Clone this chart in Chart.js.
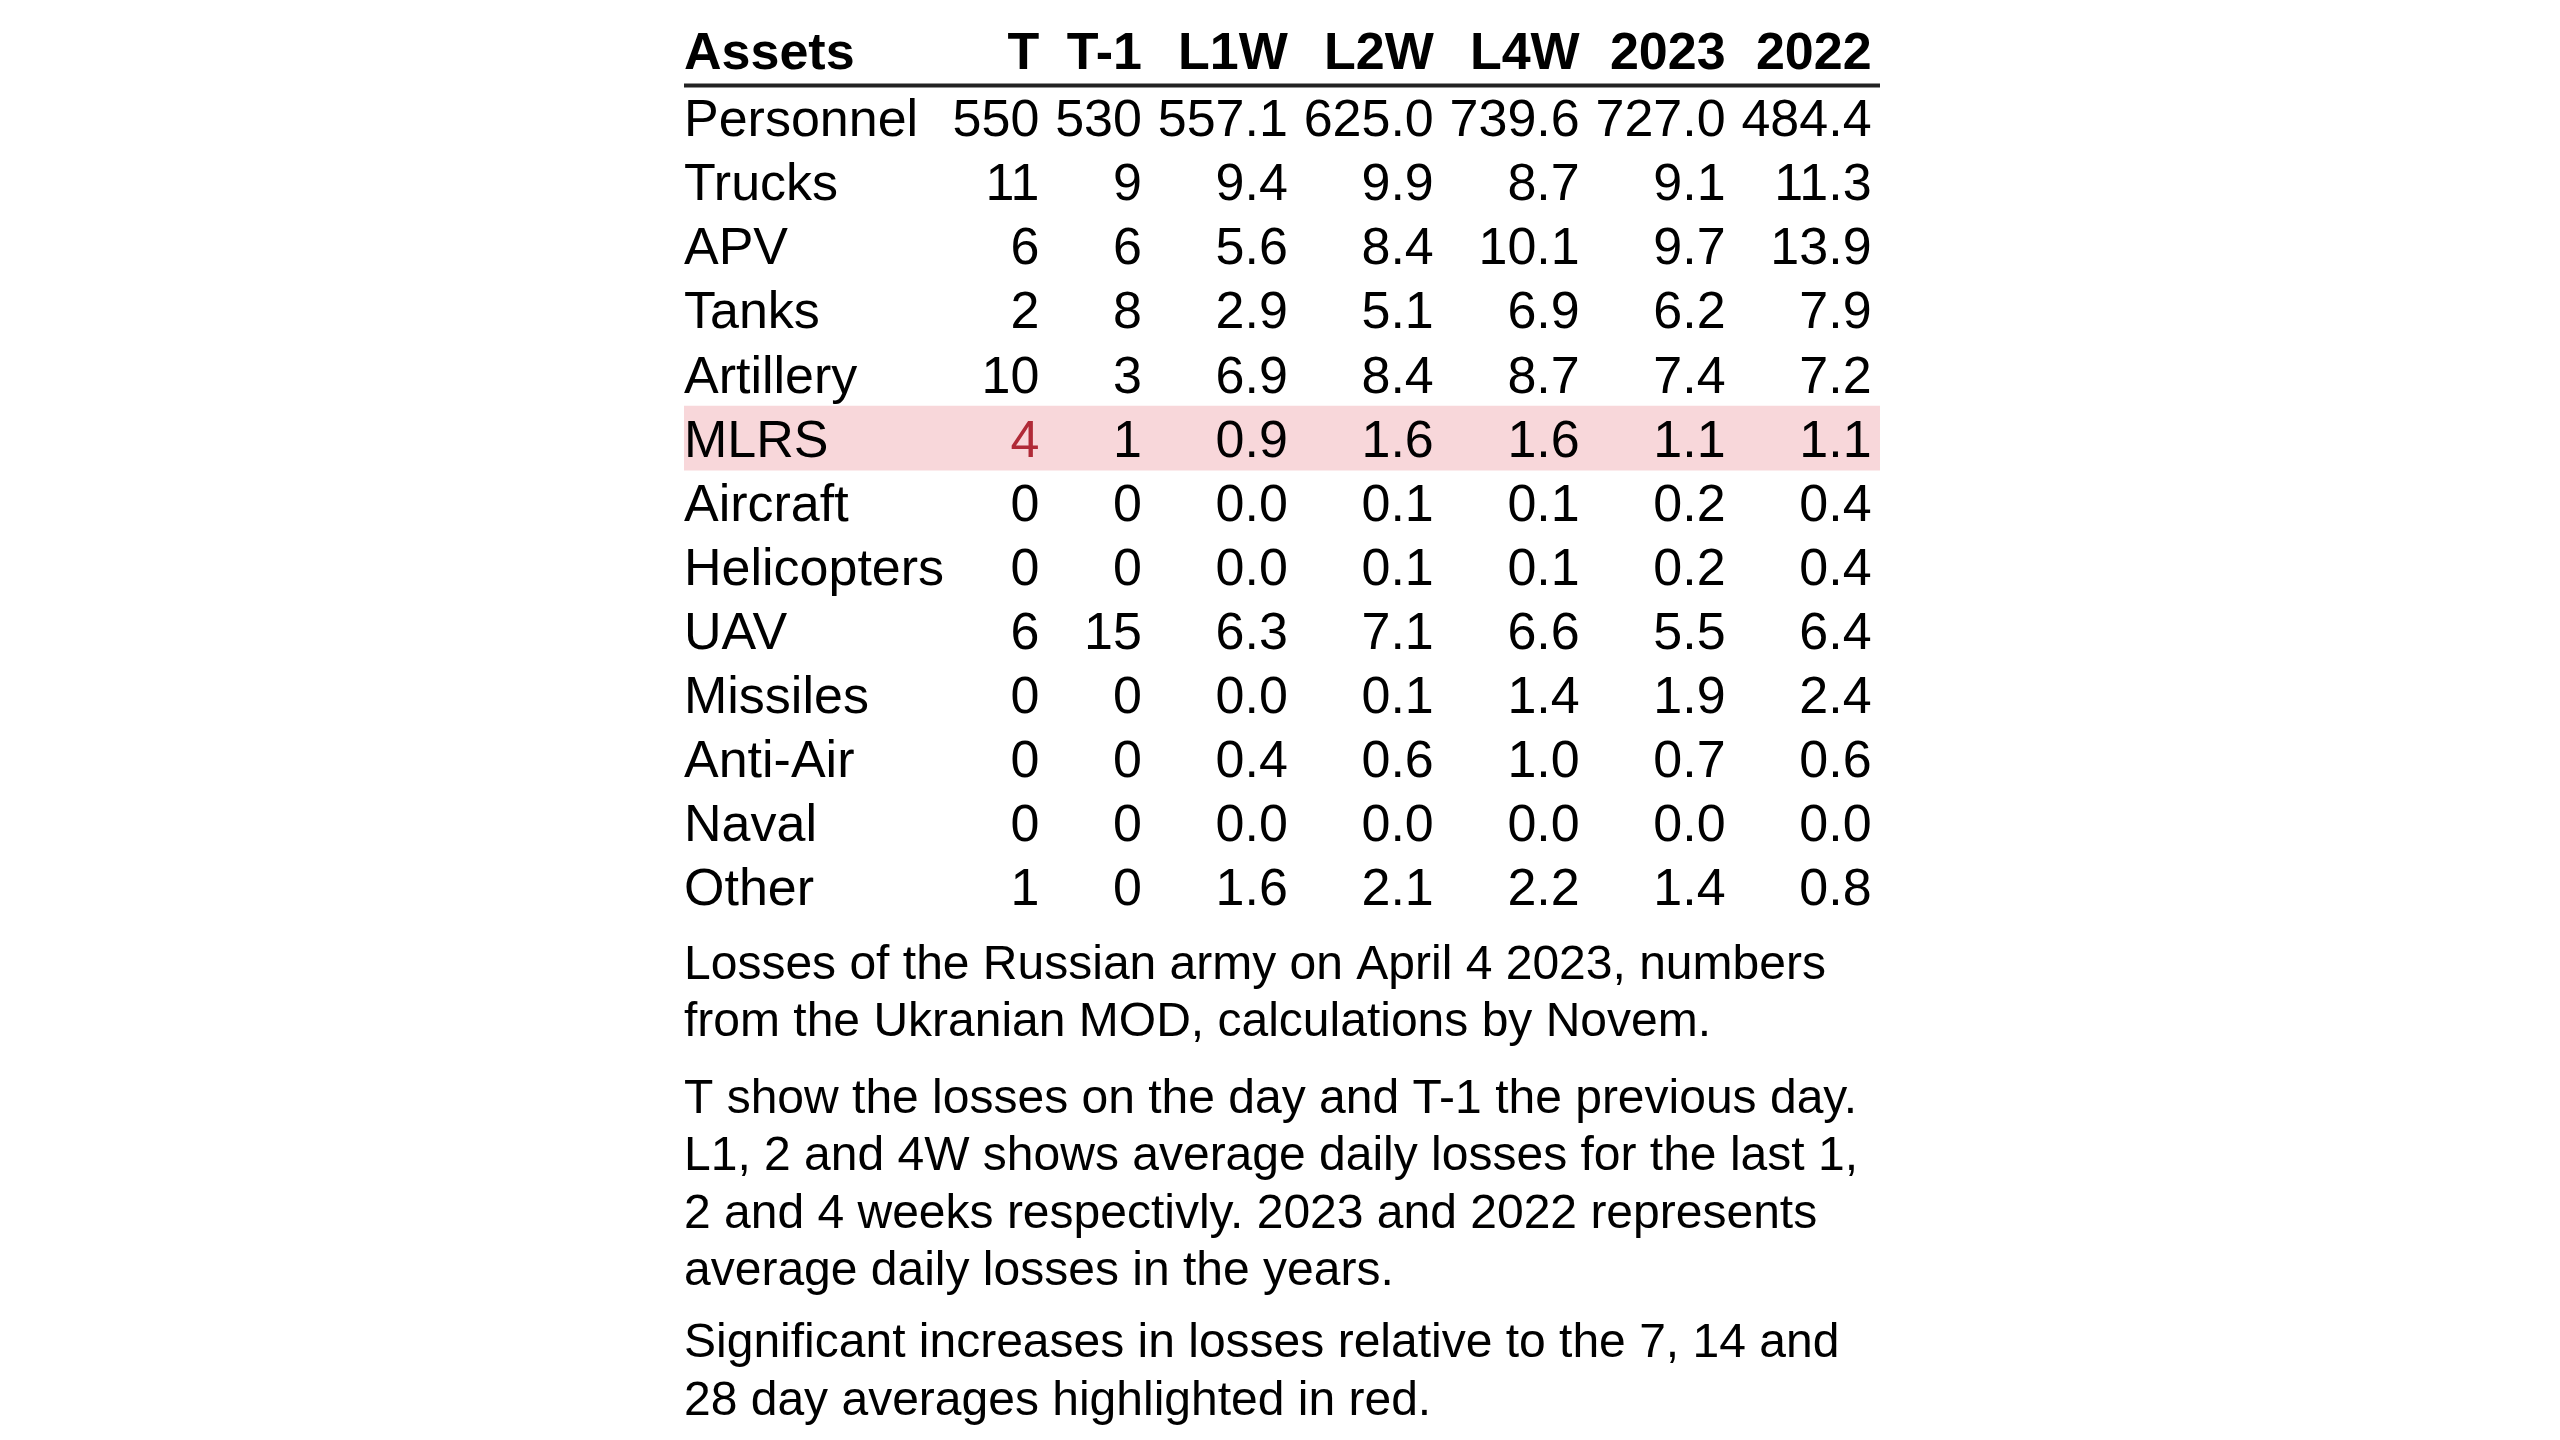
<!DOCTYPE html>
<html>
<head>
<meta charset="utf-8">
<script src="https://cdn.jsdelivr.net/npm/chart.js@4.4.0/dist/chart.umd.min.js"></script>
<style>
  html, body { margin: 0; padding: 0; background: #ffffff; overflow: hidden; }
  #wrap { width: 2560px; height: 1440px; position: relative; }
  canvas { display: block; }
  #probe { position: absolute; left: -9999px; top: 0; font-family: 'Liberation Sans', Arial, sans-serif; }
</style>
</head>
<body>
<div id="probe"><span>Probe</span> <b>Probe</b></div>
<div id="wrap"><canvas id="c" width="2560" height="1440"></canvas></div>
<script>
// ---- data ----
const headerLabel = 'Assets';
const assets = ['Personnel','Trucks','APV','Tanks','Artillery','MLRS','Aircraft','Helicopters','UAV','Missiles','Anti-Air','Naval','Other'];
const columns = ['T','T-1','L1W','L2W','L4W','2023','2022'];
const valT    = [550, 11, 6, 2, 10, 4, 0, 0, 6, 0, 0, 0, 1];
const valT1   = [530, 9, 6, 8, 3, 1, 0, 0, 15, 0, 0, 0, 0];
const valL1W  = [557.1, 9.4, 5.6, 2.9, 6.9, 0.9, 0.0, 0.0, 6.3, 0.0, 0.4, 0.0, 1.6];
const valL2W  = [625.0, 9.9, 8.4, 5.1, 8.4, 1.6, 0.1, 0.1, 7.1, 0.1, 0.6, 0.0, 2.1];
const valL4W  = [739.6, 8.7, 10.1, 6.9, 8.7, 1.6, 0.1, 0.1, 6.6, 1.4, 1.0, 0.0, 2.2];
const val2023 = [727.0, 9.1, 9.7, 6.2, 7.4, 1.1, 0.2, 0.2, 5.5, 1.9, 0.7, 0.0, 1.4];
const val2022 = [484.4, 11.3, 13.9, 7.9, 7.2, 1.1, 0.4, 0.4, 6.4, 2.4, 0.6, 0.0, 0.8];
const decimals = [0, 0, 1, 1, 1, 1, 1];
const highlightRows = ['MLRS'];
const highlightCells = [['MLRS', 'T']];
const notes = [
  ['Losses of the Russian army on April 4 2023, numbers', 'from the Ukranian MOD, calculations by Novem.'],
  ['T show the losses on the day and T-1 the previous day.', 'L1, 2 and 4W shows average daily losses for the last 1,', '2 and 4 weeks respectivly. 2023 and 2022 represents', 'average daily losses in the years.'],
  ['Significant increases in losses relative to the 7, 14 and', '28 day averages highlighted in red.']
];

const series = [valT, valT1, valL1W, valL2W, valL4W, val2023, val2022];
const rowLabels = [headerLabel].concat(assets);

// ---- style ----
const FONT = '"Liberation Sans", Arial, Helvetica, sans-serif';
const FS = 52;
const NOTE_FS = 48;
const GAP_FIRST = 8.5;
const GAP = 15.8;
const PARA_GAPS = [0, 19, 14.5];
const TEXT = '#000000';
const RED = '#b02a37';
const PINK = '#f8d7da';
const RULE = '#222222';

const tablePlugin = {
  id: 'tableText',
  afterDatasetsDraw(chart) {
    const ctx = chart.ctx;
    const xs = chart.scales.x, ys = chart.scales.y;
    const left = xs.getPixelForValue(0);
    const right = xs.getPixelForValue(1);
    ctx.save();
    ctx.font = FS + 'px ' + FONT;
    let labelW = 0;
    assets.forEach(a => { labelW = Math.max(labelW, ctx.measureText(a).width); });
    ctx.font = 'bold ' + FS + 'px ' + FONT;
    labelW = Math.max(labelW, ctx.measureText(headerLabel).width);
    const colRight = [];
    let cur = left + labelW;
    columns.forEach((c, j) => {
      ctx.font = 'bold ' + FS + 'px ' + FONT;
      let w = ctx.measureText(c).width;
      ctx.font = FS + 'px ' + FONT;
      series[j].forEach(v => { w = Math.max(w, ctx.measureText(v.toFixed(decimals[j])).width); });
      cur += (j === 0 ? GAP_FIRST : GAP) + w;
      colRight.push(cur);
    });
    const capOff = FS * 0.358;
    const yh = ys.getPixelForValue(0) - 3 + capOff;
    ctx.fillStyle = TEXT;
    ctx.font = 'bold ' + FS + 'px ' + FONT;
    ctx.textBaseline = 'alphabetic';
    ctx.textAlign = 'left';
    ctx.fillText(headerLabel, left, yh);
    ctx.textAlign = 'right';
    columns.forEach((c, j) => ctx.fillText(c, colRight[j], yh));
    const ry = (ys.getPixelForValue(0) + ys.getPixelForValue(1)) / 2;
    ctx.strokeStyle = RULE;
    ctx.lineWidth = 4;
    ctx.beginPath();
    ctx.moveTo(left, ry);
    ctx.lineTo(right, ry);
    ctx.stroke();
    ctx.font = FS + 'px ' + FONT;
    assets.forEach((a, i) => {
      const y = ys.getPixelForValue(i + 1) + capOff;
      ctx.fillStyle = TEXT;
      ctx.textAlign = 'left';
      ctx.fillText(a, left, y);
      ctx.textAlign = 'right';
      columns.forEach((c, j) => {
        const hot = highlightCells.some(h => h[0] === a && h[1] === c);
        ctx.fillStyle = hot ? RED : TEXT;
        ctx.fillText(series[j][i].toFixed(decimals[j]), colRight[j], y);
      });
    });
    ctx.fillStyle = TEXT;
    ctx.textAlign = 'left';
    ctx.font = NOTE_FS + 'px ' + FONT;
    let by = chart.chartArea.bottom + 60;
    notes.forEach((para, p) => {
      by += PARA_GAPS[p] || 0;
      para.forEach((line, k) => {
        if (k > 0 || p > 0) by += 57.5;
        ctx.fillText(line, left, by);
      });
    });
    ctx.restore();
  }
};

function build() {
  new Chart(document.getElementById('c'), {
    type: 'bar',
    data: {
      labels: rowLabels,
      datasets: [{
        data: rowLabels.map(l => highlightRows.includes(l) ? [0, 1] : null),
        backgroundColor: PINK,
        borderWidth: 0,
        barPercentage: 1,
        categoryPercentage: 1
      }]
    },
    options: {
      indexAxis: 'y',
      responsive: false,
      devicePixelRatio: 1,
      animation: false,
      layout: { padding: { left: 684, right: 680, top: 21.4, bottom: 521.2 } },
      plugins: { legend: { display: false }, tooltip: { enabled: false }, title: { display: false } },
      scales: {
        x: { type: 'linear', min: 0, max: 1, display: false },
        y: { type: 'category', display: false, offset: true }
      }
    },
    plugins: [tablePlugin]
  });
}

const loads = [
  document.fonts.load(FS + 'px "Liberation Sans"'),
  document.fonts.load('bold ' + FS + 'px "Liberation Sans"'),
  document.fonts.load(NOTE_FS + 'px "Liberation Sans"')
];
Promise.all(loads).then(build, build);
</script>
</body>
</html>
